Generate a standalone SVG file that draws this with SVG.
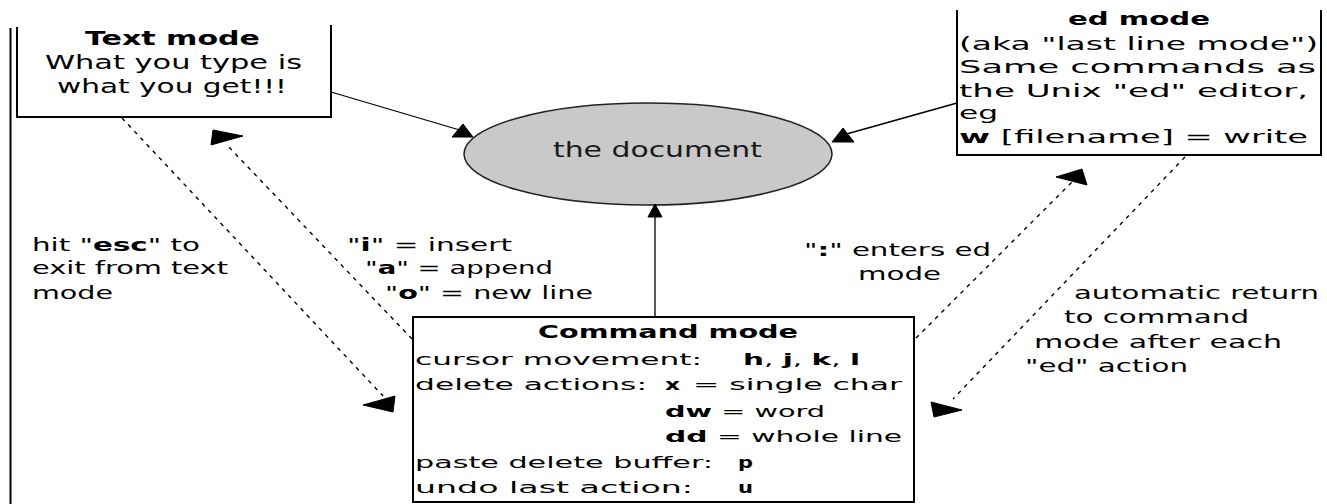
<svg xmlns="http://www.w3.org/2000/svg" width="1327" height="504" viewBox="0 0 1327 504">
<style>
text{font-family:"DejaVu Sans","Liberation Sans",sans-serif;fill:#000}
.b{font-weight:bold}
.box{fill:#fff;stroke:#000;stroke-width:2}
.open{fill:none;stroke:#000;stroke-width:2}
.solid{fill:none;stroke:#000;stroke-width:1.3}
.dash{fill:none;stroke:#000;stroke-width:1.4;stroke-dasharray:4 5}
.head{fill:#000;stroke:#000;stroke-width:1}
.s20{font-size:20px}.s18{font-size:18px}.s17{font-size:17px}.s16{font-size:16.5px}.s19{font-size:18.5px}
</style>
<rect width="1327" height="504" fill="#fff"/>
<line x1="10.5" y1="28" x2="10.5" y2="504" stroke="#000" stroke-width="2"/>

<g id="text-mode">
<path class="open" d="M17,27 V117 H331 V25"/>
<text class="s20 b" x="85" y="45" textLength="175" lengthAdjust="spacingAndGlyphs">Text mode</text>
<text class="s20" x="45" y="69" textLength="257" lengthAdjust="spacingAndGlyphs">What you type is</text>
<text class="s20" x="57" y="93" textLength="230" lengthAdjust="spacingAndGlyphs">what you get!!!</text>
</g>

<g id="ed-mode">
<path class="open" d="M957,10 V155 H1321 V10"/>
<text class="s17 b" x="1068" y="25" textLength="142" lengthAdjust="spacingAndGlyphs">ed mode</text>
<text class="s18" x="959" y="50" textLength="359" lengthAdjust="spacingAndGlyphs">(aka "last line mode")</text>
<text class="s18" x="959" y="73" textLength="357" lengthAdjust="spacingAndGlyphs">Same commands as</text>
<text class="s18" x="959" y="97" textLength="349" lengthAdjust="spacingAndGlyphs">the Unix "ed" editor,</text>
<text class="s18" x="959" y="119" textLength="39" lengthAdjust="spacingAndGlyphs">eg</text>
<text class="s18" x="959" y="143" textLength="349" lengthAdjust="spacingAndGlyphs"><tspan class="b">w</tspan> [filename] = write</text>
</g>

<g id="document">
<ellipse cx="648" cy="154" rx="184" ry="51" fill="#c9c9c9" stroke="#222" stroke-width="1.5"/>
<text x="553" y="157" font-size="22" style="fill:#1a1a1a" textLength="209" lengthAdjust="spacingAndGlyphs">the document</text>
</g>

<g id="command-mode">
<rect class="box" x="413" y="317" width="501" height="185"/>
<text class="s18 b" x="538" y="338" textLength="260" lengthAdjust="spacingAndGlyphs">Command mode</text>
<text class="s16" x="415" y="365" textLength="287" lengthAdjust="spacingAndGlyphs">cursor movement:</text>
<text class="s16" x="743" y="365" textLength="117" lengthAdjust="spacingAndGlyphs"><tspan class="b">h</tspan>, <tspan class="b">j</tspan>, <tspan class="b">k</tspan>, <tspan class="b">l</tspan></text>
<text class="s16" x="415" y="390" textLength="232" lengthAdjust="spacingAndGlyphs">delete actions:</text>
<text class="s16 b" x="665" y="390" textLength="15" lengthAdjust="spacingAndGlyphs">x</text>
<text class="s16" x="693" y="390" textLength="209" lengthAdjust="spacingAndGlyphs">= single char</text>
<text class="s16" x="665" y="417" textLength="160" lengthAdjust="spacingAndGlyphs"><tspan class="b">dw</tspan> = word</text>
<text class="s16" x="665" y="442" textLength="237" lengthAdjust="spacingAndGlyphs"><tspan class="b">dd</tspan> = whole line</text>
<text class="s16" x="415" y="468" textLength="298" lengthAdjust="spacingAndGlyphs">paste delete buffer:</text>
<text class="s16 b" x="738" y="468" textLength="15" lengthAdjust="spacingAndGlyphs">p</text>
<text class="s16" x="415" y="493" textLength="278" lengthAdjust="spacingAndGlyphs">undo last action:</text>
<text class="s16 b" x="738" y="493" textLength="15" lengthAdjust="spacingAndGlyphs">u</text>
</g>

<g id="connectors">
<line class="solid" x1="331" y1="92" x2="463" y2="131"/>
<polygon class="head" points="463,124 452,137 473,137"/>
<line class="solid" x1="957" y1="103" x2="843" y2="135"/>
<polygon class="head" points="843,128 832,142 854,142"/>
<line class="solid" x1="655" y1="317" x2="655" y2="214"/>
<polygon class="head" points="655,204 648,217 662,217"/>
<line class="dash" x1="122" y1="118" x2="383" y2="396"/>
<polygon class="head" points="363,405 395,396 393,412"/>
<line class="dash" x1="412" y1="339" x2="226" y2="144"/>
<polygon class="head" points="213,130 243,136 211,145"/>
<line class="dash" x1="916" y1="338" x2="1072" y2="182"/>
<polygon class="head" points="1056,177 1082,169 1087,185"/>
<line class="dash" x1="1185" y1="157" x2="953" y2="399"/>
<polygon class="head" points="931,402 962,410 934,417"/>
<g id="labels">
<text class="s19" x="32" y="251" textLength="168" lengthAdjust="spacingAndGlyphs">hit "<tspan class="b">esc</tspan>" to</text>
<text class="s19" x="32" y="274" textLength="196" lengthAdjust="spacingAndGlyphs">exit from text</text>
<text class="s19" x="32" y="299" textLength="81" lengthAdjust="spacingAndGlyphs">mode</text>
<text class="s19" x="347" y="251" textLength="165" lengthAdjust="spacingAndGlyphs">"<tspan class="b">i</tspan>" = insert</text>
<text class="s19" x="365" y="274" textLength="188" lengthAdjust="spacingAndGlyphs">"<tspan class="b">a</tspan>" = append</text>
<text class="s19" x="385" y="299" textLength="208" lengthAdjust="spacingAndGlyphs">"<tspan class="b">o</tspan>" = new line</text>
<text class="s18" x="804" y="256" textLength="187" lengthAdjust="spacingAndGlyphs">"<tspan class="b">:</tspan>" enters ed</text>
<text class="s18" x="858" y="280" textLength="83" lengthAdjust="spacingAndGlyphs">mode</text>
<text class="s18" x="1074" y="299" textLength="245" lengthAdjust="spacingAndGlyphs">automatic return</text>
<text class="s18" x="1064" y="323" textLength="185" lengthAdjust="spacingAndGlyphs">to command</text>
<text class="s18" x="1034" y="348" textLength="248" lengthAdjust="spacingAndGlyphs">mode after each</text>
<text class="s18" x="1025" y="372" textLength="163" lengthAdjust="spacingAndGlyphs">"ed" action</text>
</g>
</g>
</svg>
